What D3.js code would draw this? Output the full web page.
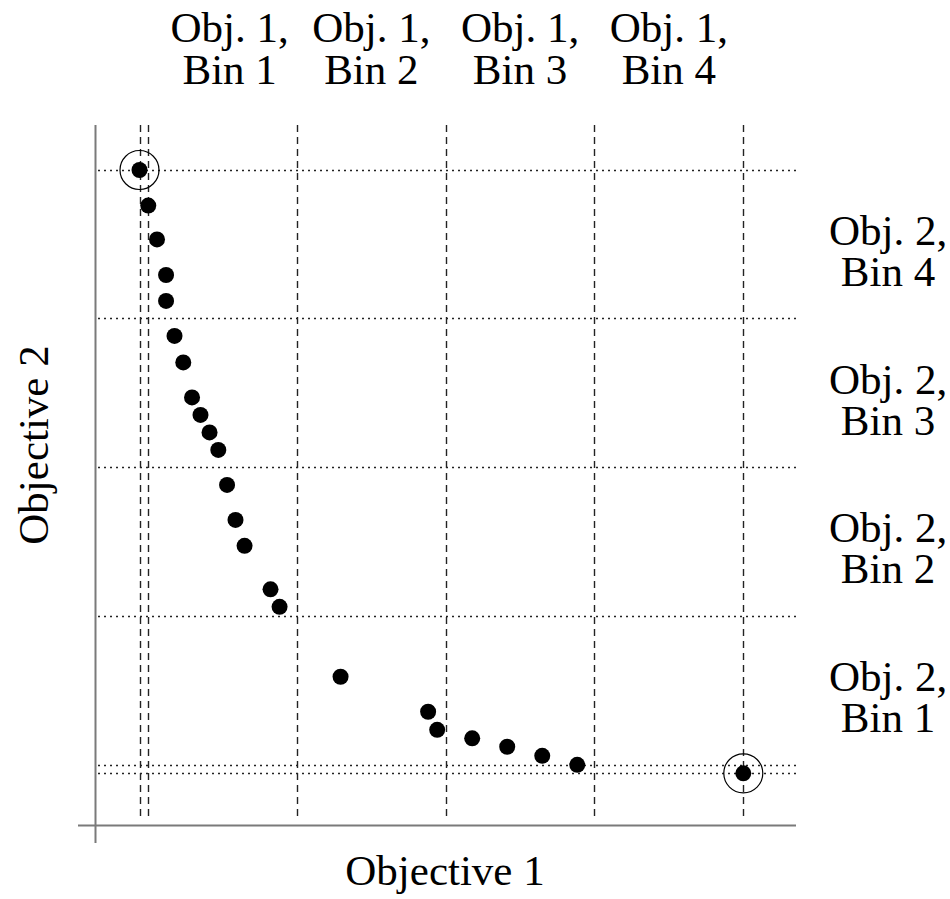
<!DOCTYPE html>
<html>
<head>
<meta charset="utf-8">
<script src="https://cdn.jsdelivr.net/npm/d3@7"></script>
<style>
  html, body { margin: 0; padding: 0; background: #fff; }
  svg { display: block; }
  text { font-family: "Liberation Serif", "Times New Roman", serif; fill: #000; }
</style>
</head>
<body>
<div id="chart"></div>
<script>
// Pareto front points (objective values, both normalised to 0..100)
const obj1 = [0, 1.45, 2.9, 4.4, 4.4, 5.8, 7.25, 8.7, 10.1, 11.6, 13.05, 14.5, 15.9, 17.4,
              21.7, 23.2, 33.3, 47.8, 49.3, 55.1, 60.9, 66.7, 72.5, 100];
const obj2 = [100, 94.1, 88.5, 82.6, 78.3, 72.5, 68.1, 62.3, 59.4, 56.5, 53.6, 47.8, 42.0, 37.7,
              30.5, 27.6, 16.0, 10.2, 7.2, 5.8, 4.4, 2.9, 1.4, 0];

// Indices of the extreme solutions (circled)
const extremes = [0, 23];

// Bin boundaries along each objective, plus the boundary at the extreme point
const obj1Edges = [1.45, 26.1, 50.7, 75.35, 100];
const obj2Edges = [1.45, 26.1, 50.8, 75.4, 100];
const obj1Extreme = 0;
const obj2Extreme = 0;

const obj1Labels = [["Obj. 1,", "Bin 1"], ["Obj. 1,", "Bin 2"], ["Obj. 1,", "Bin 3"], ["Obj. 1,", "Bin 4"]];
const obj2Labels = [["Obj. 2,", "Bin 1"], ["Obj. 2,", "Bin 2"], ["Obj. 2,", "Bin 3"], ["Obj. 2,", "Bin 4"]];

const xTitle = "Objective 1";
const yTitle = "Objective 2";

const W = 950, H = 899;
const svg = d3.select("#chart").append("svg").attr("width", W).attr("height", H);

const x = d3.scaleLinear().domain([0, 100]).range([139.5, 743.3]);
const y = d3.scaleLinear().domain([0, 100]).range([773.3, 170]);

const fontSize = 43;

// Axes (plain lines, no ticks)
const axisColor = "#7a7a7a";
svg.append("line").attr("x1", 95.5).attr("x2", 95.5).attr("y1", 125).attr("y2", 843)
  .attr("stroke", axisColor).attr("stroke-width", 2);
svg.append("line").attr("x1", 78).attr("x2", 796).attr("y1", 825.5).attr("y2", 825.5)
  .attr("stroke", axisColor).attr("stroke-width", 2);

// Vertical dashed bin boundaries for objective 1
const vLines = [obj1Extreme].concat(obj1Edges);
svg.append("g").selectAll("line").data(vLines).join("line")
  .attr("x1", d => Math.round(x(d)) + 0.5).attr("x2", d => Math.round(x(d)) + 0.5)
  .attr("y1", 125).attr("y2", 820)
  .attr("stroke", "#222").attr("stroke-width", 1.4)
  .attr("stroke-dasharray", "7,5");

// Horizontal dotted bin boundaries for objective 2
const hLines = [obj2Extreme].concat(obj2Edges);
svg.append("g").selectAll("line").data(hLines).join("line")
  .attr("x1", 98).attr("x2", 797)
  .attr("y1", d => Math.round(y(d)) + 0.5).attr("y2", d => Math.round(y(d)) + 0.5)
  .attr("stroke", "#222").attr("stroke-width", 1.5)
  .attr("stroke-dasharray", "2,4");

// Points
const pts = obj1.map((v, i) => ({ a: v, b: obj2[i] }));
svg.append("g").selectAll("circle").data(pts).join("circle")
  .attr("cx", d => x(d.a)).attr("cy", d => y(d.b)).attr("r", 8)
  .attr("fill", "#000");

// Rings around the extreme solutions
svg.append("g").selectAll("circle").data(extremes.map(i => pts[i])).join("circle")
  .attr("cx", d => x(d.a)).attr("cy", d => y(d.b)).attr("r", 19.5)
  .attr("fill", "none").attr("stroke", "#000").attr("stroke-width", 1.2);

// Bin labels along the top
obj1Labels.forEach((lines, i) => {
  const cx = x((obj1Edges[i] + obj1Edges[i + 1]) / 2) + (i === 0 ? 7 : 0);
  const t = svg.append("text").attr("text-anchor", "middle").attr("font-size", fontSize);
  t.append("tspan").attr("x", cx).attr("y", 42).text(lines[0]);
  t.append("tspan").attr("x", cx).attr("y", 84).text(lines[1]);
});

// Bin labels on the right
obj2Labels.forEach((lines, i) => {
  const cy = y((obj2Edges[i] + obj2Edges[i + 1]) / 2);
  const t = svg.append("text").attr("text-anchor", "middle").attr("font-size", fontSize);
  t.append("tspan").attr("x", 888).attr("y", cy + 1).text(lines[0]);
  t.append("tspan").attr("x", 888).attr("y", cy + 42).text(lines[1]);
});

// Axis titles
svg.append("text").attr("text-anchor", "middle").attr("font-size", fontSize)
  .attr("x", 445).attr("y", 885).text(xTitle);
svg.append("text").attr("text-anchor", "middle").attr("font-size", fontSize)
  .attr("transform", "translate(48,445) rotate(-90)").text(yTitle);
</script>
</body>
</html>
